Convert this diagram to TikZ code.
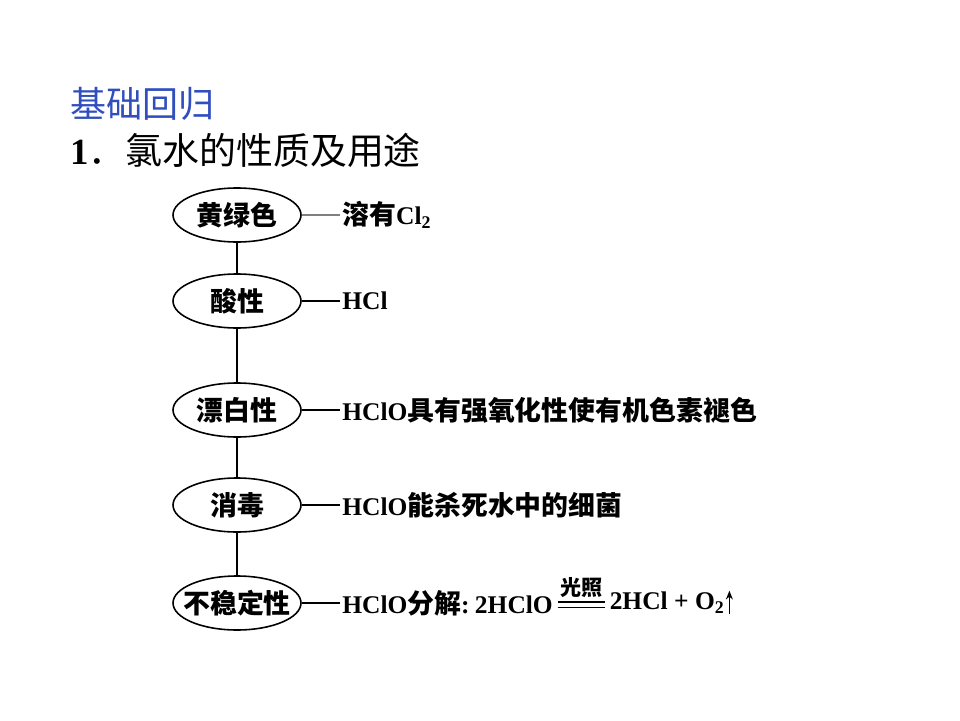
\documentclass[tikz,border=0pt]{standalone}
\usetikzlibrary{shapes.geometric,arrows.meta,calc}
\usepackage{fontspec}
\setmainfont{Liberation Serif}
\newfontfamily\cjk{Noto Sans CJK SC}
\newcommand\zhtext[1]{{\cjk\fontsize{15.3}{17}\selectfont #1}}
\definecolor{titleblue}{RGB}{48,78,190}
\begin{document}
\begin{tikzpicture}[x=0.02cm,y=-0.02cm,
  prop/.style={draw,ellipse,minimum width=128*0.02cm,minimum height=54*0.02cm,inner sep=0pt,line width=0.9pt},
  proptext/.style={inner sep=0pt,font=\cjk\bfseries\fontsize{15.3}{17}\selectfont},
  desc/.style={anchor=west,inner sep=0pt,font=\bfseries\fontsize{14.5}{16}\selectfont},
  link/.style={line width=0.9pt}]
\useasboundingbox (0,0) rectangle (960,720);
\node[anchor=west,inner sep=0pt,text=titleblue,font=\cjk\fontsize{20.5}{22}\selectfont] (t1) at (70,104) {基础回归};
\node[anchor=west,inner sep=0pt,font=\fontsize{21}{23}\selectfont] (t2) at (70,150) {\textbf{1}{\cjk ．}{\cjk 氯水的性质及用途}};
\node[prop] (e1) at (237,215) {};
\node[prop] (e2) at (237,301) {};
\node[prop] (e3) at (237,410) {};
\node[prop] (e4) at (237,505) {};
\node[prop] (e5) at (237,603) {};
\node[proptext] (l1) at (e1) {黄绿色};
\node[proptext] (l2) at (e2) {酸性};
\node[proptext] (l3) at (e3) {漂白性};
\node[proptext] (l4) at (e4) {消毒};
\node[proptext] (l5) at (e5) {不稳定性};
\draw[link] (e1) -- (e2);
\draw[link] (e2) -- (e3);
\draw[link] (e3) -- (e4);
\draw[link] (e4) -- (e5);
\node[desc] (d1) at (342,215) {\zhtext{溶有}Cl\textsubscript{2}};
\node[desc] (d2) at (342,301) {HCl};
\node[desc] (d3) at (342,410) {HClO\zhtext{具有强氧化性使有机色素褪色}};
\node[desc] (d4) at (342,505) {HClO\zhtext{能杀死水中的细菌}};
\node[desc] (d5) at (342,603) {HClO\zhtext{分解}:\hspace{3pt}2HClO};
\coordinate (eqa) at ([xshift=2.5pt,yshift=-1pt]d5.east);
\coordinate (eqb) at ([xshift=29.5pt,yshift=-1pt]d5.east);
\draw[line width=0.7pt] ([yshift=1.6pt]eqa) -- ([yshift=1.6pt]eqb);
\draw[line width=0.7pt] ([yshift=-1.6pt]eqa) -- ([yshift=-1.6pt]eqb);
\node[inner sep=0pt,font=\cjk\bfseries\fontsize{12}{13}\selectfont,above=4pt] (cond) at ($(eqa)!0.5!(eqb)$) {光照};
\node[desc] (d6) at ([xshift=2.5pt,yshift=1pt]eqb) {2HCl + O\textsubscript{2}};
\draw[line width=0.9pt,-{Stealth[length=5pt,width=4pt]}] ([xshift=2.5pt,yshift=-6.5pt]d6.east) -- ([xshift=2.5pt,yshift=7pt]d6.east);
\draw[link,gray] (e1.east) -- ([xshift=-1pt]d1.west);
\draw[link] (e2.east) -- ([xshift=-1pt]d2.west);
\draw[link] (e3.east) -- ([xshift=-1pt]d3.west);
\draw[link] (e4.east) -- ([xshift=-1pt]d4.west);
\draw[link] (e5.east) -- ([xshift=-1pt]d5.west);
\end{tikzpicture}
\end{document}
